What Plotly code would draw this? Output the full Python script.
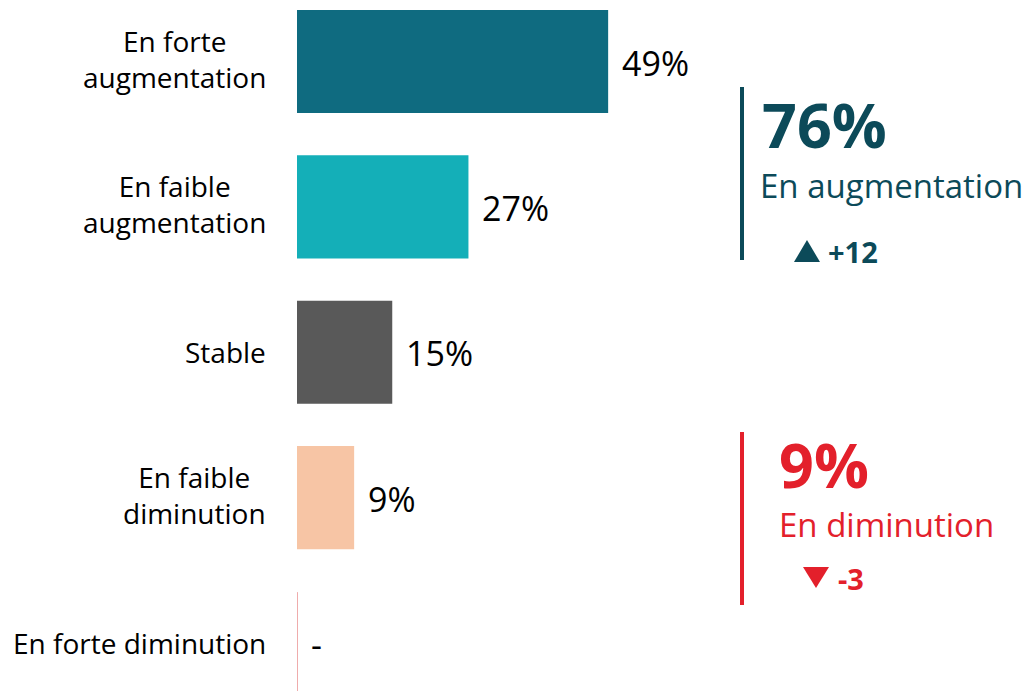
import plotly.graph_objects as go

categories = ["En forte<br>augmentation", "En faible<br>augmentation", "Stable",
              "En faible<br>diminution", "En forte diminution"]
values = [49, 27, 15, 9, 0]
value_labels = ["49%", "27%", "15%", "9%", "-"]
bar_colors = ["#0F6B80", "#14AFB8", "#595959", "#F7C5A5", "#E05A5A"]

summary_up = {"pct": "76%", "label": "En augmentation", "delta": "+12"}
summary_down = {"pct": "9%", "label": "En diminution", "delta": "-3"}

DARK = "#0C4A59"
RED = "#E3202B"
FONT = "Open Sans"

W, H = 1035, 691
OFF = 8            # page body margin
L = 297 - OFF      # left margin of the figure


def px(x):
    return (x - OFF - L) / (W - L)


def py(y):
    return 1 - (y - OFF) / H


fig = go.Figure()
fig.add_trace(go.Bar(
    y=categories, x=values, orientation="h",
    marker=dict(color=bar_colors, line=dict(width=0)),
    hoverinfo="skip", showlegend=False,
))

annotations = []
for c in categories:
    annotations.append(dict(
        x=0, xref="paper", y=c, yref="y", text=c, showarrow=False,
        xanchor="right", yanchor="middle", align="center", xshift=-29,
        yshift=3 if "<br>" in c else 0,
        font=dict(family=FONT, size=28, color="#000000"),
    ))
for c, v, t in zip(categories, values, value_labels):
    annotations.append(dict(
        x=v, xref="x", y=c, yref="y", text=t, showarrow=False,
        xanchor="left", yanchor="middle", xshift=12, yshift=-1,
        font=dict(family=FONT, size=34, color="#000000"),
    ))

annotations += [
    dict(x=px(760), y=py(125), text="<b>%s</b>" % summary_up["pct"], xref="paper", yref="paper",
         showarrow=False, xanchor="left", yanchor="middle",
         font=dict(family=FONT, size=61, color=DARK)),
    dict(x=px(758), y=py(185), text=summary_up["label"], xref="paper", yref="paper",
         showarrow=False, xanchor="left", yanchor="middle",
         font=dict(family=FONT, size=33, color=DARK)),
    dict(x=px(826), y=py(252), text="<b>%s</b>" % summary_up["delta"], xref="paper", yref="paper",
         showarrow=False, xanchor="left", yanchor="middle",
         font=dict(family=FONT, size=29, color=DARK)),
    dict(x=px(777), y=py(465), text="<b>%s</b>" % summary_down["pct"], xref="paper", yref="paper",
         showarrow=False, xanchor="left", yanchor="middle",
         font=dict(family=FONT, size=61, color=RED)),
    dict(x=px(777), y=py(524), text=summary_down["label"], xref="paper", yref="paper",
         showarrow=False, xanchor="left", yanchor="middle",
         font=dict(family=FONT, size=33, color=RED)),
    dict(x=px(836), y=py(578), text="<b>%s</b>" % summary_down["delta"], xref="paper", yref="paper",
         showarrow=False, xanchor="left", yanchor="middle",
         font=dict(family=FONT, size=29, color=RED)),
]

shapes = [
    dict(type="line", xref="x", yref="y", x0=values[4], x1=values[4], y0=3.65, y1=4.4,
         line=dict(color=bar_colors[4], width=1)),
    dict(type="line", xref="paper", yref="paper", x0=px(742), x1=px(742), y0=py(87), y1=py(260),
         line=dict(color=DARK, width=4)),
    dict(type="line", xref="paper", yref="paper", x0=px(742), x1=px(742), y0=py(432), y1=py(605),
         line=dict(color=RED, width=4)),
    dict(type="path", xref="paper", yref="paper",
         path="M %f %f L %f %f L %f %f Z" % (px(794), py(262), px(820), py(262), px(807), py(240)),
         fillcolor=DARK, line=dict(width=0)),
    dict(type="path", xref="paper", yref="paper",
         path="M %f %f L %f %f L %f %f Z" % (px(803), py(567), px(829), py(567), px(816), py(588)),
         fillcolor=RED, line=dict(width=0)),
]

fig.update_layout(
    width=W, height=H,
    margin=dict(l=L, r=0, t=0, b=0),
    paper_bgcolor="white", plot_bgcolor="white",
    bargap=0.29,
    xaxis=dict(range=[0, (W - L) / 6.35], visible=False, fixedrange=True),
    yaxis=dict(type="category", range=[4.385, -0.368], showticklabels=False,
               showgrid=False, zeroline=False, showline=False, fixedrange=True),
    annotations=annotations,
    shapes=shapes,
    font=dict(family=FONT),
)

fig.write_html("out.html")
